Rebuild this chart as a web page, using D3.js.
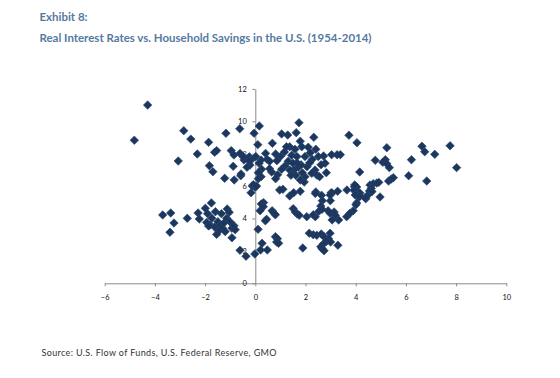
<!DOCTYPE html>
<html>
<head>
<meta charset="utf-8">
<script src="https://cdn.jsdelivr.net/npm/d3@7"></script>
<style>
  html, body { margin: 0; padding: 0; background: #fff; }
  svg { display: block; }
  .tick text { font-family: Lato, "Open Sans", sans-serif; font-size: 7.5px; fill: #111; }
</style>
</head>
<body>
<div id="chart"></div>
<script>
const W = 560;
const H = 378;

// real interest rate (x, %) and household savings rate (y, %)
const realRate = [
  -4.29, -4.82, -2.85, -2.57, -3.07, -2.31, -1.86, -1.62, -1.54, -1.83, -1.69, -1.17, -0.96,
  -0.85, -0.88, -1.22, -0.84, -0.58, -0.62, -0.61, -0.45, -0.24, -0.14, -0.21, -0.05, -0.12,
  0.16, 1.74, 1.05, 1.29, 1.63, 2.33, 3.73, 4.05, 0.68, 0.10, 1.79, 1.85, 1.37, 1.24, 1.58,
  2.11, 2.41, 2.19, 3.04, 3.26, 3.39, 4.16, -0.49, -0.25, 0.02, 0.23, 0.41, 0.47, 0.81, 1.00,
  0.86, 0.57, 1.16, 1.45, 1.66, 1.98, 2.27, 2.51, 2.72, 2.78, 2.62, 2.38, 2.46, 2.83, 2.56,
  2.25, 1.98, 1.79, 1.95, 2.06, 1.71, 1.53, 1.37, 1.61, 1.42, 1.18, 1.05, 0.89, 0.81, 0.65,
  0.57, 0.15, 0.25, 0.12, 0.23, 0.12, -0.33, -0.57, -0.01, -0.17, 1.10, 0.97, 1.37, 1.53,
  1.79, 2.41, 2.64, 3.02, 3.28, 2.67, 2.99, 3.65, 3.95, 4.08, 4.13, 4.50, 4.40, 0.33, 1.82,
  1.31, 1.87, 2.17, 1.66, 1.50,
  5.24, 6.64, 6.75, 7.15, 7.76, 8.02, 6.22, 6.11, 6.83, 4.78, 5.08, 5.18, 5.24, 5.34, 5.31,
  5.42, 5.50, 4.97, 4.57, 4.70, 4.84, 4.92, 4.62, 4.55, 4.38, 4.65, 4.04, 3.93, 4.17, 3.98,
  3.06, 2.98, 4.04, 3.96,
  2.39, 4.17, 2.61, 2.53, 2.66, 2.90, 2.98, 3.14, 3.19, 3.64, 4.01, 3.90, 3.77, 3.32, 3.06,
  2.39, 2.31, 2.05, 1.51, 1.59, 1.67, 1.75, 0.24, 0.32, 0.19, 0.67, 0.75, 0.80, 0.45, 0.40,
  0.11, 2.15, 2.31, 2.45, 2.63, 2.74, 2.98, 2.92, 2.84, 3.00, 2.71, 3.29, 2.61, 2.66, 2.74,
  1.89, 0.80, 0.88, 0.85, 0.93, 0.27, 0.21, 0.48, -0.02,
  -3.69, -3.37, -3.24, -3.40, -2.71, -2.28, -2.23, -1.99, -1.75, -1.59, -1.35, -1.12, -1.04,
  -1.94, -1.80, -1.73, -1.62, -1.49, -1.41, -1.30, -1.46, -1.25, -1.14, -1.01, -0.93, -0.85,
  -0.80, -1.20, -1.54, -0.93, -0.61, -0.37, -1.86, -1.90, -0.08, 0.05
];
const savingsRate = [
  11.00, 8.83, 9.42, 8.90, 7.55, 7.98, 8.70, 8.09, 8.19, 7.26, 6.89, 9.26, 8.19,
  7.92, 7.22, 6.48, 6.38, 6.64, 9.54, 8.02, 7.61, 7.81, 7.65, 7.30, 9.26, 6.00,
  9.71, 9.91, 9.22, 9.15, 9.30, 9.01, 9.14, 8.68, 8.64, 8.56, 8.77, 8.43, 8.43, 8.43, 8.27,
  8.40, 8.27, 8.06, 7.94, 7.94, 7.94, 6.87, 7.82, 7.57, 7.82, 7.61, 8.02, 7.65, 7.98, 7.82,
  7.57, 7.53, 8.10, 7.90, 7.82, 7.82, 7.65, 7.82, 7.86, 7.41, 7.32, 6.99, 6.67, 6.83, 6.58,
  6.79, 6.58, 6.38, 6.25, 7.20, 7.16, 6.99, 6.99, 6.67, 6.67, 7.24, 7.04, 6.70, 6.46, 6.87,
  7.07, 7.41, 7.04, 6.83, 6.58, 6.46, 7.16, 6.75, 5.93, 5.59, 5.80, 5.76, 5.39, 5.59,
  5.68, 5.64, 5.43, 5.59, 5.68, 5.10, 5.10, 5.76, 5.96, 5.64, 5.31, 5.47, 5.22, 4.98, 7.32,
  7.53, 6.83, 7.44, 7.44, 7.41,
  8.37, 8.46, 8.12, 7.96, 8.49, 7.14, 7.63, 6.64, 6.31, 7.59, 7.47, 7.63, 7.38, 7.14, 6.31,
  6.44, 6.52, 5.33, 6.07, 6.15, 6.19, 6.23, 5.86, 5.70, 5.29, 5.66, 5.94, 5.74, 5.57, 5.45,
  5.57, 5.45, 4.96, 6.07,
  5.55, 5.39, 4.77, 4.44, 4.57, 4.48, 4.32, 4.40, 4.20, 4.11, 4.85, 4.48, 4.32, 3.91, 3.91,
  4.11, 4.23, 4.11, 4.61, 4.40, 4.28, 4.20, 4.90, 4.73, 4.48, 4.48, 4.32, 4.23, 3.95, 3.86,
  3.33, 3.09, 3.00, 2.96, 3.04, 2.88, 3.09, 2.75, 2.59, 2.55, 2.43, 2.35, 2.26, 2.14, 2.01,
  2.18, 2.88, 2.75, 2.55, 2.47, 2.47, 2.06, 2.06, 1.81,
  4.22, 4.34, 3.72, 3.15, 4.01, 4.34, 3.97, 4.63, 4.96, 4.42, 4.30, 4.59, 4.38,
  3.76, 3.60, 4.01, 3.48, 3.80, 3.56, 3.40, 3.23, 3.72, 4.01, 3.80, 3.40, 3.56,
  3.31, 3.19, 3.02, 2.81, 2.04, 1.67, 3.54, 4.30, 6.09, 6.00
];

const xTicks = [-6, -4, -2, 0, 2, 4, 6, 8, 10];
const yTicks = [0, 2, 4, 6, 8, 10, 12];

const points = realRate.map((r, i) => ({ x: r, y: savingsRate[i] }));

const svg = d3.select('#chart').append('svg')
  .attr('width', W)
  .attr('height', H);

// titles
svg.append('text')
  .attr('x', 39.5).attr('y', 21)
  .attr('font-family', 'Lato, "Open Sans", sans-serif')
  .attr('font-weight', 'bold')
  .attr('font-size', 11.5)
  .attr('fill', '#56799f')
  .attr('textLength', 48)
  .text('Exhibit 8:');

svg.append('text')
  .attr('x', 39.5).attr('y', 42)
  .attr('font-family', 'Lato, "Open Sans", sans-serif')
  .attr('font-weight', 'bold')
  .attr('font-size', 11.5)
  .attr('fill', '#56799f')
  .attr('textLength', 332)
  .attr('lengthAdjust', 'spacingAndGlyphs')
  .text('Real Interest Rates vs. Household Savings in the U.S. (1954-2014)');

const x = d3.scaleLinear().domain([-6, 10]).range([104.7, 506.3]);
const y = d3.scaleLinear().domain([0, 12]).range([283.3, 88.9]);

const xAxis = svg.append('g')
  .attr('transform', `translate(0,${y(0)})`)
  .call(d3.axisBottom(x).tickValues(xTicks).tickSize(3).tickPadding(8).tickSizeOuter(0));

const yAxis = svg.append('g')
  .attr('transform', `translate(${x(0)},0)`)
  .call(d3.axisLeft(y).tickValues(yTicks).tickSize(3).tickPadding(5.5).tickSizeOuter(0));

[xAxis, yAxis].forEach(g => {
  g.select('.domain').attr('stroke', '#8a8a8a');
  g.selectAll('.tick line').attr('stroke', '#8a8a8a');
});

const marker = d3.symbol().type(d3.symbolSquare).size(36);

svg.append('g')
  .attr('class', 'points')
  .selectAll('path')
  .data(points)
  .join('path')
  .attr('d', marker)
  .attr('transform', d => `translate(${x(d.x)},${y(d.y)}) rotate(45)`)
  .attr('fill', '#1c375e')
  .attr('stroke', '#2a4670')
  .attr('stroke-width', 0.6);

svg.append('text')
  .attr('x', 41.5).attr('y', 356)
  .attr('font-family', 'Lato, "Open Sans", sans-serif')
  .attr('font-size', 9)
  .attr('fill', '#333')
  .attr('textLength', 235)
  .text('Source: U.S. Flow of Funds, U.S. Federal Reserve, GMO');
</script>
</body>
</html>
